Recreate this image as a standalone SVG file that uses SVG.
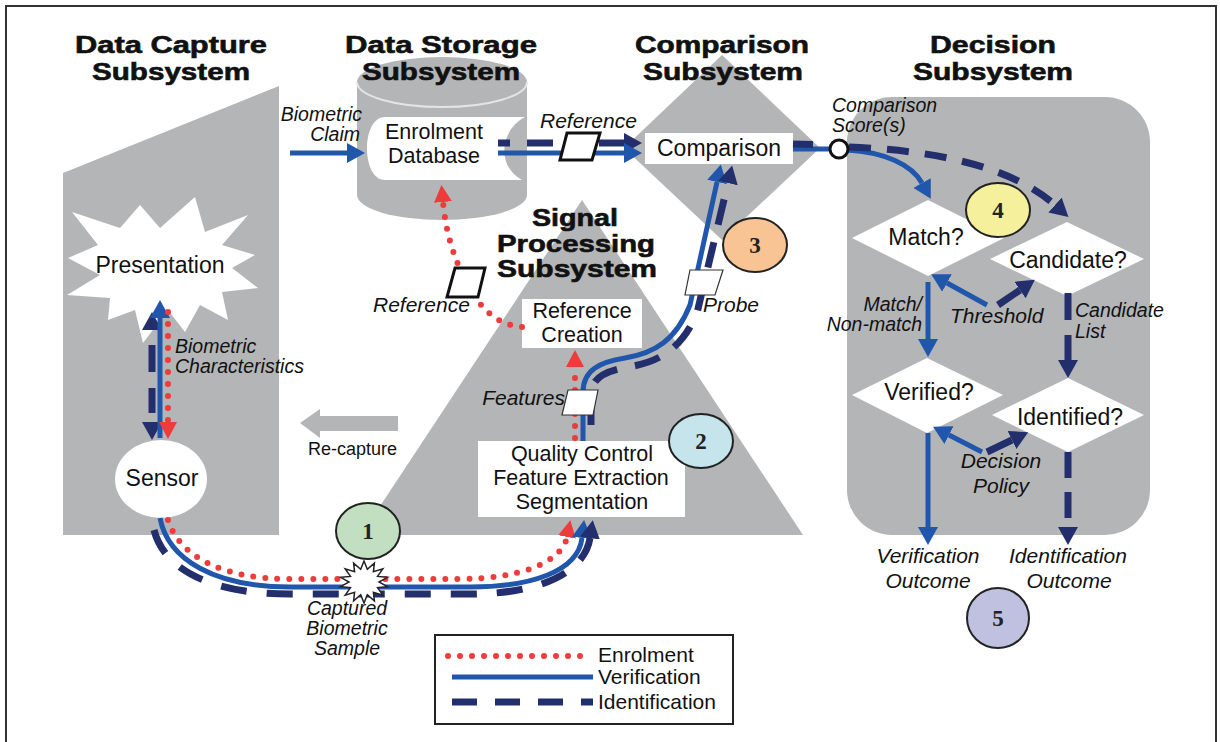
<svg xmlns="http://www.w3.org/2000/svg" width="1220" height="742" viewBox="0 0 1220 742">
<style>
.t{font-family:"Liberation Sans",Arial,sans-serif;fill:#111}
.ttl{font-weight:bold;font-size:23.5px;text-anchor:middle;stroke:#111;stroke-width:0.6}
.bx{font-size:23px;text-anchor:middle}
.bx2{font-size:21.5px;text-anchor:middle}
.it{font-style:italic;font-size:21px}
.its{font-style:italic;font-size:19.5px}
.lg{font-size:21px}
.num{font-family:"Liberation Serif","DejaVu Serif",serif;font-weight:bold;font-size:23px;text-anchor:middle;fill:#222}
.gray{fill:#b4b5b7}
.wh{fill:#fff}
.blue{fill:none;stroke:#2056ac;stroke-width:5}
.navy{fill:none;stroke:#232f6c;stroke-width:7;stroke-dasharray:26 17}
.navys{fill:none;stroke:#232f6c;stroke-width:7}
.red{fill:none;stroke:#ef3b3b;stroke-width:6;stroke-dasharray:0 12;stroke-linecap:round}
.para{fill:#fff;stroke:#111;stroke-width:3}
.parat{fill:#fff;stroke:#333;stroke-width:1.2}
.badge{stroke:#222;stroke-width:2}
</style>
<defs>
<marker id="mb" viewBox="0 0 18 20" refX="0" refY="10" markerWidth="18" markerHeight="20" markerUnits="userSpaceOnUse" orient="auto-start-reverse"><path d="M0,0 L18,10 L0,20 z" fill="#2056ac"/></marker>
<marker id="mn" viewBox="0 0 18 20" refX="0" refY="10" markerWidth="18" markerHeight="20" markerUnits="userSpaceOnUse" orient="auto-start-reverse"><path d="M0,0 L18,10 L0,20 z" fill="#232f6c"/></marker>
<marker id="mr" viewBox="0 0 17 18" refX="0" refY="9" markerWidth="17" markerHeight="18" markerUnits="userSpaceOnUse" orient="auto-start-reverse"><path d="M0,0 L17,9 L0,18 z" fill="#ef3b3b"/></marker>
</defs>
<rect x="0" y="0" width="1220" height="742" fill="#fff"/>
<rect x="6" y="6" width="1210" height="745" fill="none" stroke="#333" stroke-width="2"/>

<g id="data-capture">
<polygon class="gray" points="63,173 279,86 279,535 63,535"/>
</g>
<g id="signal-processing">
<polygon class="gray" points="582,200 803,535 361,535"/>
</g>
<g id="data-storage">
<rect class="gray" x="357" y="82" width="170" height="113"/>
<ellipse class="gray" cx="442" cy="82" rx="85" ry="25"/>
<ellipse class="gray" cx="442" cy="195" rx="85" ry="25"/>
<path d="M357,82 A85,25 0 0 0 527,82" fill="none" stroke="#e4e4e4" stroke-width="2"/>
</g>
<g id="comparison-subsystem">
<polygon class="gray" points="722,55 820,148 722,240 624,148"/>
</g>
<g id="decision-subsystem">
<rect class="gray" x="847" y="97" width="303" height="438" rx="45"/>
</g>

<g id="presentation">
<polygon class="wh" points="195,197 205,232 248,215 222,245 255,255 232,268 258,288 222,292 228,320 200,305 185,332 168,310 143,343 135,310 108,320 110,298 67,295 100,275 68,258 98,245 72,212 120,228 140,205 160,228"/>
<text class="t bx" x="160" y="273">Presentation</text>
</g>
<g id="sensor">
<ellipse class="wh" cx="161" cy="479" rx="46" ry="39"/>
<text class="t bx" x="162" y="486">Sensor</text>
</g>
<g id="enrolment-database">
<path class="wh" d="M385,117 L525,117 C500,130 496,166 522,180 L385,180 C361,180 361,117 385,117 Z"/>
<text class="t bx2" x="434" y="139">Enrolment</text>
<text class="t bx2" x="434" y="163">Database</text>
</g>
<g id="comparison">
<rect class="wh" x="645" y="133" width="148" height="31"/>
<text class="t bx" x="719" y="156">Comparison</text>
</g>
<g id="reference-creation">
<rect class="wh" x="522" y="299" width="120" height="49"/>
<text class="t bx2" x="582" y="318">Reference</text>
<text class="t bx2" x="582" y="342">Creation</text>
</g>
<g id="quality-control">
<rect class="wh" x="478" y="441" width="207" height="76"/>
<text class="t bx2" x="582" y="461">Quality Control</text>
<text class="t bx2" x="581" y="485">Feature Extraction</text>
<text class="t bx2" x="582" y="509">Segmentation</text>
</g>
<g id="match">
<polygon class="wh" points="928,200 1004,238 928,276 852,238"/>
<text class="t bx" x="926" y="245">Match?</text>
</g>
<g id="candidate">
<polygon class="wh" points="1067,222 1144,259 1067,296 990,259"/>
<text class="t bx" x="1068" y="268">Candidate?</text>
</g>
<g id="verified">
<polygon class="wh" points="927,358 1003,395 927,433 852,395"/>
<text class="t bx" x="929" y="400">Verified?</text>
</g>
<g id="identified">
<polygon class="wh" points="1068,378 1144,415 1068,452 992,415"/>
<text class="t bx" x="1070" y="425">Identified?</text>
</g>

<g id="titles">
<text class="t ttl" x="171" y="53" textLength="192" lengthAdjust="spacingAndGlyphs">Data Capture</text>
<text class="t ttl" x="171" y="80" textLength="158" lengthAdjust="spacingAndGlyphs">Subsystem</text>
<text class="t ttl" x="441" y="53" textLength="192" lengthAdjust="spacingAndGlyphs">Data Storage</text>
<text class="t ttl" x="441" y="80" textLength="158" lengthAdjust="spacingAndGlyphs">Subsystem</text>
<text class="t ttl" x="722" y="53" textLength="174" lengthAdjust="spacingAndGlyphs">Comparison</text>
<text class="t ttl" x="723" y="80" textLength="160" lengthAdjust="spacingAndGlyphs">Subsystem</text>
<text class="t ttl" x="993" y="53" textLength="126" lengthAdjust="spacingAndGlyphs">Decision</text>
<text class="t ttl" x="993" y="80" textLength="160" lengthAdjust="spacingAndGlyphs">Subsystem</text>
<text class="t ttl" x="575" y="226" textLength="86" lengthAdjust="spacingAndGlyphs">Signal</text>
<text class="t ttl" x="576" y="252" textLength="158" lengthAdjust="spacingAndGlyphs">Processing</text>
<text class="t ttl" x="577" y="277" textLength="160" lengthAdjust="spacingAndGlyphs">Subsystem</text>
</g>

<g id="recapture">
<polygon class="gray" points="398,416 320,416 320,409 300,423 320,438 320,431 398,431"/>
<text class="t" x="308" y="455" font-size="18">Re-capture</text>
</g>

<g id="connectors">
<path class="blue" d="M290,153 L347,153" marker-end="url(#mb)"/>
<path class="navy" d="M498,143 L624,143" style="stroke-dasharray:12 17 26 17" marker-end="url(#mn)"/>
<path class="blue" d="M498,153 L624,153" marker-end="url(#mb)"/>
<path class="blue" d="M793,149 L832,149"/>
<path class="navy" d="M793,144 L830,145" style="stroke-dasharray:20 30"/>
<path class="blue" d="M847,150 C885,152 912,165 922,183" marker-end="url(#mb)"/>
<path class="navy" d="M849,147 C930,150 1010,165 1055,205" style="stroke-dasharray:22 16" marker-end="url(#mn)"/>
<path class="blue" d="M928,282 L928,339" marker-end="url(#mb)"/>
<path class="blue" d="M987,305 L947,283" marker-end="url(#mb)"/>
<path class="navys" d="M998,305 L1020,290" marker-end="url(#mn)"/>
<path class="navy" d="M1068,293 L1068,360" style="stroke-dasharray:27 15" marker-end="url(#mn)"/>
<path class="blue" d="M982,452 L949,435" marker-end="url(#mb)"/>
<path class="navys" d="M987,452 L1012,440" marker-end="url(#mn)"/>
<path class="blue" d="M928,433 L928,527" marker-end="url(#mb)"/>
<path class="navy" d="M1068,452 L1068,527" style="stroke-dasharray:26 14" marker-end="url(#mn)"/>
<path class="navy" d="M152,330 L152,422" style="stroke-dasharray:0 15 27 16 25 100" marker-start="url(#mn)" marker-end="url(#mn)"/>
<path class="blue" d="M160,318 L160,438" marker-start="url(#mb)"/>
<path class="red" d="M168,312 L168,422" marker-end="url(#mr)"/>
<path class="red" d="M168,520 C180,558 225,579 290,579 L460,579 C520,579 562,562 567,537" marker-end="url(#mr)"/>
<path class="blue" d="M160,518 C168,560 215,587 290,587 L470,587 C530,587 578,572 582,538" marker-end="url(#mb)"/>
<path class="navy" d="M154,530 C165,572 215,594 290,594 L470,594 C545,594 585,570 590,538" style="stroke-dasharray:26 20" marker-end="url(#mn)"/>
<path class="blue" d="M583,441 L583,392 C583,370 600,362 625,358 C655,353 676,340 690,305 L717,182" marker-end="url(#mb)"/>
<path class="navy" d="M591,425 L591,395 C591,378 605,371 628,367 C660,362 682,348 697,313 L728,183" style="stroke-dasharray:26 18" marker-end="url(#mn)"/>
<path class="red" d="M575,438 L575,367" marker-end="url(#mr)"/>
<path class="red" d="M522,327 C495,325 478,305 466,282 C455,260 446,235 443,202" marker-end="url(#mr)"/>
</g>

<g id="data-items">
<polygon class="para" points="567,133 600,133 592,160 560,160"/>
<polygon class="para" points="455,268 485,268 478,297 447,297"/>
<polygon class="parat" points="568,390 598,390 593,415 562,415"/>
<polygon class="parat" points="690,270 723,270 715,295 685,295"/>
<circle cx="839" cy="149" r="9" fill="#fff" stroke="#111" stroke-width="3"/>
<polygon points="364,561 367.3,569.3 374.4,563.1 373.4,571.8 382.8,568.9 377.5,576.4 387.4,577.3 379,582 387.4,586.7 377.5,587.6 382.8,595.1 373.4,592.2 374.4,600.9 367.3,594.7 364,603 360.7,594.7 353.6,600.9 354.6,592.2 345.2,595.1 350.5,587.6 340.6,586.7 349,582 340.6,577.3 350.5,576.4 345.2,568.9 354.6,571.8 353.6,563.1 360.7,569.3" fill="#fff" stroke="#222" stroke-width="1.5"/>
</g>

<g id="labels">
<text class="t its" x="362" y="121" text-anchor="end">Biometric</text>
<text class="t its" x="360" y="141" text-anchor="end">Claim</text>
<text class="t it" x="540" y="128">Reference</text>
<text class="t its" x="832" y="112">Comparison</text>
<text class="t its" x="832" y="132">Score(s)</text>
<text class="t its" x="175" y="353">Biometric</text>
<text class="t its" x="175" y="373">Characteristics</text>
<text class="t it" x="373" y="312">Reference</text>
<text class="t it" x="565" y="405" text-anchor="end">Features</text>
<text class="t it" x="703" y="312">Probe</text>
<text class="t its" x="922" y="311" text-anchor="end">Match/</text>
<text class="t its" x="922" y="331" text-anchor="end">Non-match</text>
<text class="t it" x="950" y="323">Threshold</text>
<text class="t its" x="1075" y="317">Candidate</text>
<text class="t its" x="1075" y="338">List</text>
<text class="t it" x="1001" y="468" text-anchor="middle">Decision</text>
<text class="t it" x="1001" y="493" text-anchor="middle">Policy</text>
<text class="t it" x="928" y="563" text-anchor="middle">Verification</text>
<text class="t it" x="928" y="588" text-anchor="middle">Outcome</text>
<text class="t it" x="1068" y="563" text-anchor="middle">Identification</text>
<text class="t it" x="1069" y="588" text-anchor="middle">Outcome</text>
<text class="t its" x="347" y="615" text-anchor="middle">Captured</text>
<text class="t its" x="347" y="635" text-anchor="middle">Biometric</text>
<text class="t its" x="347" y="655" text-anchor="middle">Sample</text>
</g>

<g id="step-1"><ellipse class="badge" cx="368" cy="531" rx="32" ry="28" fill="#c3dfc1"/><text class="num" x="368" y="539">1</text></g>
<g id="step-2"><ellipse class="badge" cx="701" cy="441" rx="32" ry="27" fill="#c5e4ec"/><text class="num" x="701" y="449">2</text></g>
<g id="step-3"><ellipse class="badge" cx="755" cy="245" rx="32" ry="27" fill="#f8c493"/><text class="num" x="755" y="253">3</text></g>
<g id="step-4"><ellipse class="badge" cx="998" cy="210" rx="32" ry="27" fill="#f4f09c"/><text class="num" x="998" y="218">4</text></g>
<g id="step-5"><ellipse class="badge" cx="998" cy="618" rx="31" ry="30" fill="#c0c1e0"/><text class="num" x="998" y="626">5</text></g>

<g id="legend">
<rect x="435" y="635" width="298" height="89" fill="#fff" stroke="#222" stroke-width="2"/>
<path class="red" d="M448,656 L584,656"/>
<path class="blue" d="M452,677 L593,677"/>
<path class="navy" d="M452,702 L593,702" style="stroke-dasharray:25 18"/>
<text class="t lg" x="598" y="662">Enrolment</text>
<text class="t lg" x="598" y="684">Verification</text>
<text class="t lg" x="598" y="709">Identification</text>
</g>
</svg>
